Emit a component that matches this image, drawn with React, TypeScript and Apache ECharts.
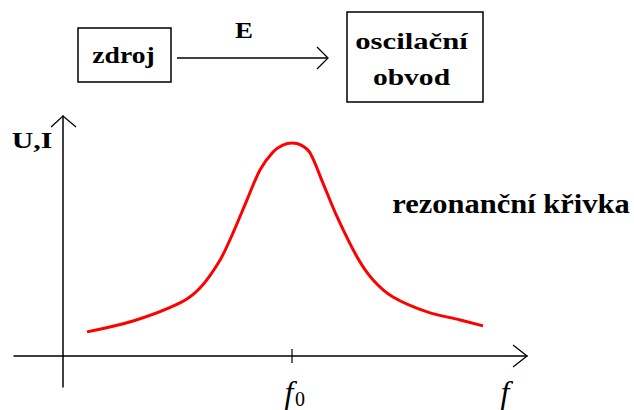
import React, { useEffect, useRef } from 'react';
import * as echarts from 'echarts';

// Resonance curve U,I(f): frequency normalised to f0 = 1, amplitude normalised to the peak.
const F0 = 1;
const X_MIN = -0.214;
const X_MAX = 2.026;
const Y_MIN = -0.146;
const Y_MAX = 1.127;

const freq = [0.105, 0.306, 0.511, 0.598, 0.686, 0.742, 0.803, 0.86, 0.917, 0.96, 1.0, 1.04, 1.079, 1.135, 1.197, 1.284, 1.354, 1.441, 1.59, 1.734, 1.834];
const amplitude = [0.113, 0.164, 0.249, 0.319, 0.451, 0.577, 0.732, 0.873, 0.958, 0.99, 1.0, 0.99, 0.953, 0.812, 0.653, 0.465, 0.357, 0.277, 0.207, 0.169, 0.141];

const SERIF = 'Liberation Serif';

const boldText = (text: string, x: number, y: number, size: number, scaleX: number) => ({
  type: 'text',
  x,
  y,
  scaleX,
  silent: true,
  style: {
    text,
    fontFamily: SERIF,
    fontWeight: 'bold',
    fontSize: size,
    fill: '#000',
    align: 'center',
    verticalAlign: 'middle',
  },
});

const mathText = (text: string, x: number, y: number, size: number, italic: boolean, align: string) => ({
  type: 'text',
  x,
  y,
  silent: true,
  style: {
    text,
    fontFamily: SERIF,
    fontStyle: italic ? 'italic' : 'normal',
    fontSize: size,
    fill: '#000',
    align,
    verticalAlign: 'top',
  },
});

const chevron = (points: number[][]) => ({
  type: 'polyline',
  silent: true,
  shape: { points },
  style: { stroke: '#000', lineWidth: 1.3, fill: null },
});

export default function App() {
  const ref = useRef<HTMLDivElement>(null);

  useEffect(() => {
    if (!ref.current) return;
    const chart = echarts.init(ref.current, null, { renderer: 'svg' });

    chart.setOption({
      animation: false,
      backgroundColor: '#fff',
      grid: { left: 14, right: 107, top: 116, bottom: 23, containLabel: false, outerBoundsMode: 'none' },
      xAxis: {
        type: 'value',
        min: X_MIN,
        max: X_MAX,
        axisLine: { show: true, onZero: true, lineStyle: { color: '#000', width: 1.5 } },
        axisTick: { show: false },
        axisLabel: { show: false },
        splitLine: { show: false },
      },
      yAxis: {
        type: 'value',
        min: Y_MIN,
        max: Y_MAX,
        axisLine: { show: true, onZero: true, lineStyle: { color: '#000', width: 1.5 } },
        axisTick: { show: false },
        axisLabel: { show: false },
        splitLine: { show: false },
      },
      series: [
        {
          type: 'line',
          data: freq.map((f, i) => [f, amplitude[i]]),
          smooth: 0.3,
          showSymbol: false,
          lineStyle: { color: '#ff0000', width: 3 },
          silent: true,
          z: 3,
        },
        {
          // tick marking the resonant frequency f0
          type: 'scatter',
          data: [[F0, 0]],
          symbol: 'rect',
          symbolSize: [1.5, 14],
          itemStyle: { color: '#000' },
          silent: true,
          z: 4,
        },
      ],
    });

    const origin = chart.convertToPixel({ gridIndex: 0 }, [0, 0]) as number[];
    const xEnd = chart.convertToPixel({ gridIndex: 0 }, [X_MAX, 0]) as number[];
    const yEnd = chart.convertToPixel({ gridIndex: 0 }, [0, Y_MAX]) as number[];
    const f0Pos = chart.convertToPixel({ gridIndex: 0 }, [F0, 0]) as number[];

    chart.setOption({
      graphic: [
        // open arrow heads on the axes
        chevron([[yEnd[0] - 12, yEnd[1] + 11], [yEnd[0], yEnd[1]], [yEnd[0] + 13, yEnd[1] + 11]]),
        chevron([[xEnd[0] - 14, xEnd[1] - 11], [xEnd[0], xEnd[1]], [xEnd[0] - 14, xEnd[1] + 11]]),
        // axis names and the f0 label
        boldText('U,I', 32, 140, 23, 1.3),
        mathText('f', xEnd[0] - 22, origin[1] + 20, 32, true, 'center'),
        mathText('f', f0Pos[0] - 3, f0Pos[1] + 20, 32, true, 'center'),
        mathText('0', f0Pos[0] + 3, f0Pos[1] + 33, 20, false, 'left'),
        boldText('rezonanční křivka', 511, 204, 27, 1.13),
        // source → oscillating circuit block diagram
        {
          type: 'rect',
          silent: true,
          shape: { x: 78, y: 28, width: 93, height: 54 },
          style: { stroke: '#000', lineWidth: 1.5, fill: null },
        },
        boldText('zdroj', 123.5, 55, 24, 1.15),
        {
          type: 'line',
          silent: true,
          shape: { x1: 177, y1: 58, x2: 328, y2: 58 },
          style: { stroke: '#000', lineWidth: 1.3 },
        },
        chevron([[317, 47], [328, 58], [317, 69]]),
        boldText('E', 244, 30.5, 23, 1.17),
        {
          type: 'rect',
          silent: true,
          shape: { x: 347, y: 12, width: 136, height: 90 },
          style: { stroke: '#000', lineWidth: 1.5, fill: null },
        },
        boldText('oscilační', 411.5, 41, 24, 1.28),
        boldText('obvod', 411.5, 77, 24, 1.23),
      ],
    });

    return () => chart.dispose();
  }, []);

  return <div ref={ref} style={{ position: 'fixed', left: 0, top: 0, width: 634, height: 410 }} />;
}
